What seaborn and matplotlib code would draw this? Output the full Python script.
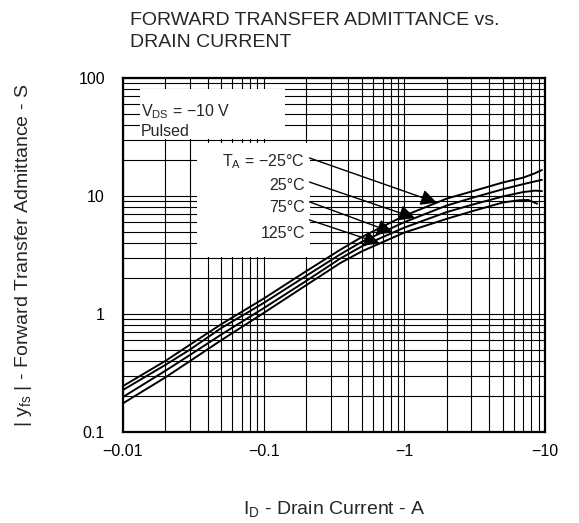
import numpy as np
import pandas as pd
import seaborn as sns
import matplotlib.pyplot as plt
from matplotlib.patches import Rectangle
from matplotlib.ticker import FixedLocator, LogLocator, NullFormatter

# drain current (A) and |yfs| (S)
id_a = [-0.01, -0.02, -0.03, -0.05, -0.1, -0.2, -0.35, -0.5, -1, -2, -3, -5, -7, -8.5, -9.5]
id_125 = [-0.01, -0.02, -0.03, -0.05, -0.1, -0.2, -0.35, -0.5, -1, -2, -3, -5, -6.5, -7.6, -8.8]
yfs_m25 = [0.245, 0.40, 0.55, 0.82, 1.35, 2.3, 3.5, 4.5, 6.8, 9.5, 10.9, 13.0, 14.3, 15.6, 16.6]
yfs_25 = [0.227, 0.37, 0.50, 0.76, 1.24, 2.1, 3.2, 4.1, 6.0, 8.3, 9.6, 11.4, 12.6, 13.3, 13.7]
yfs_75 = [0.198, 0.33, 0.45, 0.67, 1.12, 1.9, 2.95, 3.75, 5.4, 7.3, 8.4, 9.9, 10.8, 11.1, 11.0]
yfs_125 = [0.175, 0.29, 0.40, 0.60, 1.02, 1.75, 2.7, 3.4, 4.9, 6.4, 7.4, 8.8, 9.2, 9.25, 8.6]

temps = ['-25', '25', '75', '125']
temp_labels = [r'T$_{\mathrm{A}}$ = ' + '\u221225\u00b0C', '25\u00b0C', '75\u00b0C', '125\u00b0C']
# where each label's arrow lands on its curve (drain current, A)
arrow_at = [-1.7, -1.19, -0.83, -0.67]

x_ticks = [-0.01, -0.1, -1, -10]
y_ticks = [0.1, 1, 10, 100]

curves = [(id_a, yfs_m25), (id_a, yfs_25), (id_a, yfs_75), (id_125, yfs_125)]
df = pd.concat([pd.DataFrame({'id': np.abs(x), 'yfs': y, 'temp': t})
                for (x, y), t in zip(curves, temps)])

sns.set_style('white')
plt.rcParams['font.family'] = ['Liberation Sans', 'DejaVu Sans']
plt.rcParams['mathtext.fontset'] = 'custom'
plt.rcParams['mathtext.rm'] = 'Liberation Sans'
plt.rcParams['mathtext.it'] = 'Liberation Sans:italic'

fig = plt.figure(figsize=(5.79, 5.23), dpi=100)
ax = fig.add_axes([0.2124, 0.174, 0.7289, 0.6769])
ax.set_xscale('log')
ax.set_yscale('log')
ax.set_xlim(0.01, 10)
ax.set_ylim(0.1, 100)

ax.set_axisbelow(True)
ax.xaxis.set_major_locator(FixedLocator(np.abs(x_ticks)))
ax.yaxis.set_major_locator(FixedLocator(y_ticks))
ax.xaxis.set_minor_locator(LogLocator(base=10, subs=np.arange(2, 10)))
ax.yaxis.set_minor_locator(LogLocator(base=10, subs=np.arange(2, 10)))
ax.xaxis.set_minor_formatter(NullFormatter())
ax.yaxis.set_minor_formatter(NullFormatter())
ax.set_xticklabels(['\u2212' + f'{abs(v):g}' for v in x_ticks])
ax.set_yticklabels([f'{v:g}' for v in y_ticks])
ax.grid(True, which='both', color='black', linewidth=0.8)
ax.tick_params(which='both', length=0, labelsize=11.5, colors='black')
ax.tick_params(axis='x', pad=9)
ax.tick_params(axis='y', pad=13)
for s in ax.spines.values():
    s.set_linewidth(1.6)
    s.set_color('black')

# white label boxes that blank out the grid
ax.add_patch(Rectangle((0.040, 0.828), 0.344, 0.141, transform=ax.transAxes,
                       facecolor='white', edgecolor='none', zorder=1))
ax.add_patch(Rectangle((0.175, 0.494), 0.268, 0.322, transform=ax.transAxes,
                       facecolor='white', edgecolor='none', zorder=1))

sns.lineplot(data=df, x='id', y='yfs', hue='temp', palette=['black'] * 4,
             estimator=None, sort=False, legend=False, linewidth=1.4, ax=ax, zorder=3)

ax.text(0.042, 0.905, r'V$_{\mathrm{DS}}$ = ' + '\u221210 V',
        transform=ax.transAxes, fontsize=11.5, va='center', ha='left', zorder=4)
ax.text(0.042, 0.848, 'Pulsed', transform=ax.transAxes, fontsize=11.5,
        va='center', ha='left', zorder=4)

label_y = [0.763, 0.695, 0.633, 0.562]
start_y = [0.774, 0.706, 0.650, 0.599]
for (x, y), txt, xa, ly, sy in zip(curves, temp_labels, arrow_at, label_y, start_y):
    ax.text(0.431, ly, txt, transform=ax.transAxes, fontsize=11.5,
            ha='right', va='center', zorder=4)
    tip_y = 10 ** np.interp(np.log10(abs(xa)), np.log10(np.abs(x)), np.log10(y))
    ax.annotate('', xy=(abs(xa), tip_y), xycoords='data',
                xytext=(0.442, sy), textcoords='axes fraction',
                arrowprops=dict(arrowstyle='-|>', color='black', lw=1.0,
                                mutation_scale=24, shrinkA=0, shrinkB=0),
                zorder=4)

ax.set_xlabel(r'I$_{\mathrm{D}}$ - Drain Current - A', fontsize=14)
ax.xaxis.set_label_coords(0.5, -0.19)
ax.set_ylabel(r'| y$_{\mathrm{fs}}$ | - Forward Transfer Admittance - S', fontsize=14)
ax.yaxis.set_label_coords(-0.212, 0.5)

fig.text(0.2245, 0.977, 'FORWARD TRANSFER ADMITTANCE vs.\nDRAIN CURRENT',
         fontsize=14, ha='left', va='top', linespacing=1.35)

fig.savefig('out.png', dpi=100)
